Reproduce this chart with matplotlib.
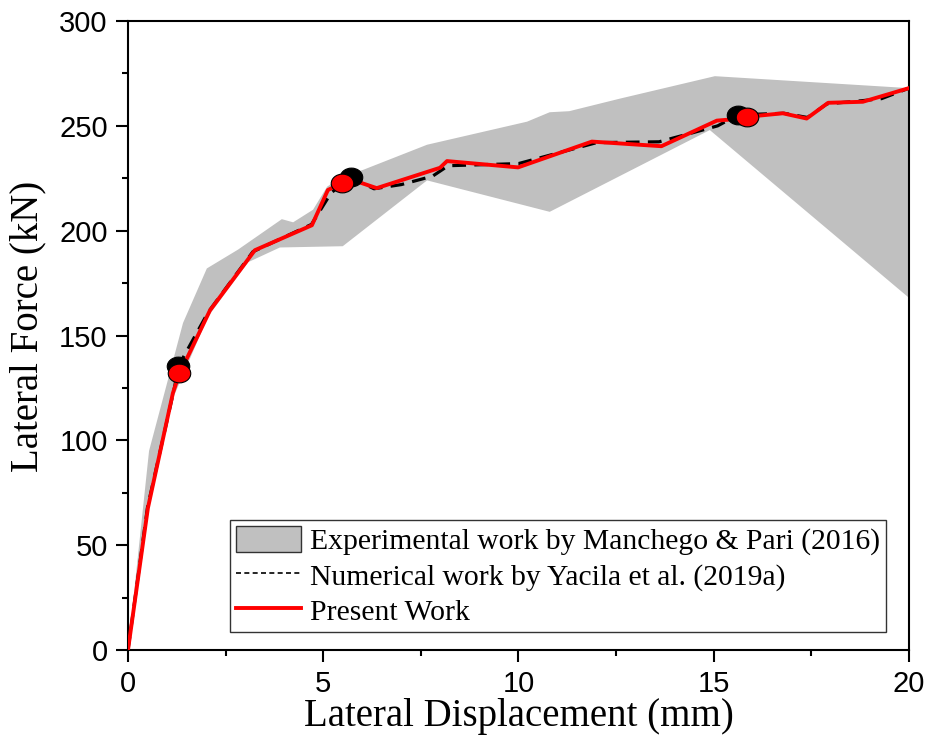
import matplotlib
matplotlib.use("Agg")
import matplotlib.pyplot as plt
from matplotlib.markers import MarkerStyle
from matplotlib.transforms import Affine2D
from matplotlib.patches import Patch
from matplotlib.lines import Line2D

# Experimental envelope (Manchego & Pari 2016)
exp_upper_x = [0, 0.54, 1.41, 2.02, 2.82, 3.94, 4.23, 4.74, 5.1, 5.5, 6.02, 7.66, 10.22, 10.8, 11.3, 12.6, 15.03, 20.0]
exp_upper_y = [0, 95, 156, 182, 191, 205.5, 204, 210, 221, 226, 229, 241, 252, 256.5, 257, 263, 273.7, 268]
exp_lower_x = [0, 0.5, 1.15, 2.05, 3.08, 3.89, 5.5, 7.66, 10.8, 14.9, 20.0]
exp_lower_y = [0, 66, 120, 159, 185, 192, 192.6, 224, 209, 248, 168]

# Numerical work (Yacila et al. 2019a)
num_x = [0, 0.5, 1.2, 1.28, 2.05, 3.2, 4.7, 5.2, 5.7, 6.3, 7.0, 7.8, 8.2, 10.0, 12.0, 13.6, 14.4, 15.1, 15.6, 16.0, 16.8, 17.4, 17.9, 18.8, 19.3, 20.0]
num_y = [0, 68, 126, 135, 161, 190, 203, 218, 225.5, 220, 222, 226, 231, 232, 242, 242.4, 246.4, 250, 255, 255.5, 256, 254, 260.5, 262, 263, 268]

# Present work
pres_x = [0, 0.51, 1.15, 1.3, 2.1, 3.25, 4.71, 5.12, 5.38, 5.94, 6.37, 7.99, 8.17, 9.99, 11.88, 13.66, 15.08, 15.4, 15.84, 16.77, 17.38, 17.93, 18.82, 20.0]
pres_y = [0, 67.7, 122.5, 131, 162, 190.7, 202.6, 219.4, 221.7, 223, 220.3, 230, 233.2, 230.2, 242.5, 240.3, 252.5, 253, 254.3, 256, 253.5, 261, 261.5, 268]

# Highlighted points
num_mark_x = [1.28, 5.70, 15.63]
num_mark_y = [135.4, 225.5, 255.1]
pres_mark_x = [1.30, 5.49, 15.84]
pres_mark_y = [132.0, 222.8, 254.3]

labels = ["Experimental work by Manchego & Pari (2016)",
          "Numerical work by Yacila et al. (2019a)",
          "Present Work"]

serif = ["Liberation Serif", "DejaVu Serif"]
sans = ["Liberation Sans", "DejaVu Sans"]

fig = plt.figure(figsize=(9.26, 7.38), dpi=100)
ax = fig.add_axes([0.1382, 0.1192, 0.9816 - 0.1382, 0.9715 - 0.1192])

poly_x = exp_upper_x + exp_lower_x[::-1]
poly_y = exp_upper_y + exp_lower_y[::-1]
ax.fill(poly_x, poly_y, color="#c0c0c0", lw=0, zorder=1)

ln_num, = ax.plot(num_x, num_y, color="black", lw=2.3, zorder=2)
ln_num.set_dashes((4.3, 2.6))
ax.plot(pres_x, pres_y, color="#ff0000", lw=2.8, zorder=3)

ell = MarkerStyle("o", transform=Affine2D().scale(1.2, 1.0))
ax.plot(num_mark_x, num_mark_y, ls="none", marker=ell, ms=13.5,
        mfc="black", mec="black", mew=0.8, zorder=4)
ax.plot(pres_mark_x, pres_mark_y, ls="none", marker=ell, ms=13.5,
        mfc="#ff0000", mec="black", mew=0.8, zorder=5)

ax.set_xlim(0, 20)
ax.set_ylim(0, 300)
ax.set_xticks([0, 5, 10, 15, 20])
ax.set_yticks([0, 50, 100, 150, 200, 250, 300])
ax.set_xticks([2.5, 7.5, 12.5, 17.5], minor=True)
ax.set_yticks([25, 75, 125, 175, 225, 275], minor=True)
ax.tick_params(which="major", direction="out", length=8.6, width=1.5, pad=6,
               labelsize=21, top=False, right=False)
ax.tick_params(which="minor", direction="out", length=4.5, width=1.5,
               top=False, right=False)
for lab in ax.get_xticklabels() + ax.get_yticklabels():
    lab.set_family(sans)
for sp in ax.spines.values():
    sp.set_linewidth(1.5)

ax.set_xlabel("Lateral Displacement (mm)", family=serif, fontsize=28, labelpad=0)
ax.set_ylabel("Lateral Force (kN)", family=serif, fontsize=28)
ax.yaxis.set_label_coords(-0.104, 0.514)

handles = [Patch(facecolor="#c0c0c0", edgecolor="#333333", lw=1.0),
           Line2D([], [], color="black", lw=1.2, ls=(0, (3, 2))),
           Line2D([], [], color="#ff0000", lw=2.8)]
leg = ax.legend(handles, labels, loc="lower right",
                bbox_to_anchor=(0.9706, 0.0286), borderaxespad=0,
                prop={"family": serif, "size": 21.3}, frameon=True,
                fancybox=False, edgecolor="#333333", framealpha=1,
                handlelength=2.2, handleheight=1.0, handletextpad=0.3,
                labelspacing=0.2, borderpad=0.2)
leg.get_frame().set_linewidth(1.0)

fig.savefig("out.png", dpi=100)
